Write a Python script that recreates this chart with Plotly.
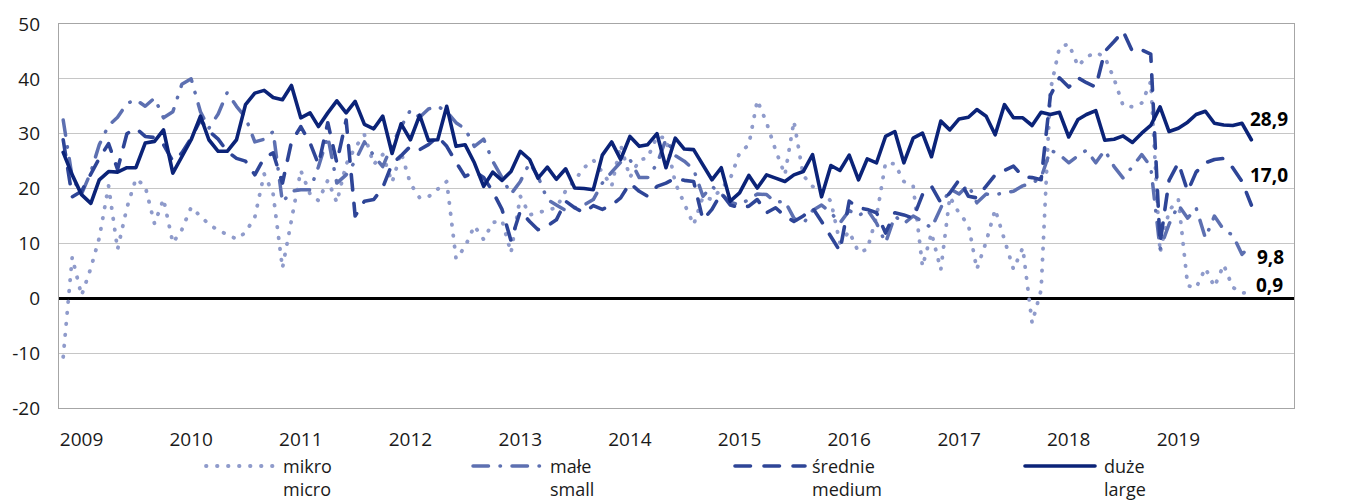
import pandas as pd
import plotly.graph_objects as go

# ---------------- data ----------------
months = pd.date_range("2008-11-01", "2019-09-01", freq="MS")

mikro = [-10.7, 7.5, 0.5, 5.5, 11.0, 20.5, 8.9, 16.5, 21.8, 20.4, 13.6, 18.1, 10.1, 12.5, 16.6, 15.0, 13.5, 12.4, 11.6, 10.8,
         12.0, 14.8, 22.7, 19.0, 5.5, 14.0, 23.3, 19.0, 17.8, 21.5, 17.5, 24.4, 27.5, 29.8, 24.4, 26.2, 21.1, 26.6, 20.9, 18.3,
         18.5, 19.9, 21.3, 7.2, 9.4, 13.2, 10.7, 13.8, 14.2, 8.3, 18.6, 15.2, 15.6, 16.0, 16.5, 19.6, 21.5, 23.8, 25.2, 23.0,
         20.4, 28.0, 22.0, 25.2, 25.6, 29.5, 29.2, 21.0, 17.3, 13.4, 18.5, 18.0, 20.0, 21.8, 26.5, 28.0, 36.1, 32.0, 27.0, 22.5,
         32.3, 22.4, 20.4, 19.5, 17.7, 10.1, 12.2, 8.4, 8.9, 14.9, 24.7, 24.5, 21.3, 20.5, 5.8, 11.9, 5.2, 18.5, 15.5, 13.4,
         5.3, 10.3, 16.2, 10.4, 5.3, 9.2, -4.5, 1.5, 38.0, 45.7, 46.4, 42.3, 44.0, 44.8, 44.0, 40.0, 35.1, 34.9, 35.6, 39.5,
         8.3, 16.0, 18.0, 2.3, 1.9, 5.5, 2.1, 6.1, 2.0, 1.0, 0.9]

male = [32.5, 22.0, 19.0, 23.0, 28.0, 31.5, 33.0, 35.5, 36.2, 35.0, 36.5, 32.9, 34.0, 39.0, 40.0, 34.0, 31.0, 33.6, 37.5, 35.0,
        33.0, 28.5, 29.0, 30.4, 17.5, 19.5, 19.8, 19.8, 24.0, 29.5, 21.0, 22.5, 25.0, 28.5, 26.0, 24.0, 28.0, 31.3, 34.3, 33.0,
        34.5, 35.0, 34.0, 32.0, 30.9, 27.7, 29.0, 25.0, 22.0, 19.0, 21.3, 24.7, 22.2, 18.0, 17.0, 16.0, 16.5, 17.0, 18.0, 21.0,
        23.0, 24.8, 25.3, 22.0, 22.0, 24.5, 29.0, 26.0, 25.0, 23.5, 18.6, 20.4, 19.0, 17.5, 17.0, 18.0, 19.0, 18.9, 17.5, 17.7,
        14.6, 13.6, 16.0, 17.0, 15.6, 13.7, 16.0, 15.0, 16.2, 13.7, 10.1, 15.0, 13.6, 15.0, 14.0, 12.8, 16.5, 20.0, 19.0, 20.7,
        17.4, 19.0, 18.9, 19.2, 19.5, 20.5, 21.0, 22.0, 27.0, 26.2, 24.7, 26.0, 27.0, 24.7, 27.0, 24.0, 21.9, 24.0, 26.2, 24.0,
        9.0, 13.5, 17.0, 14.6, 16.5, 11.0, 15.0, 12.5, 11.5, 8.0, 9.8]

srednie = [28.9, 18.5, 19.5, 22.8, 25.5, 28.2, 23.5, 30.0, 31.0, 29.5, 29.3, 28.0, 25.0, 26.5, 29.2, 32.5, 30.5, 29.0, 26.8, 25.5,
           25.0, 22.5, 25.6, 26.5, 21.0, 28.5, 31.3, 28.3, 24.4, 32.0, 24.7, 32.5, 15.0, 17.7, 18.0, 20.2, 24.5, 26.0, 27.7, 27.1,
           28.0, 29.5, 27.7, 24.8, 22.2, 23.1, 22.0, 19.5, 16.2, 10.5, 15.9, 14.0, 12.5, 13.2, 14.3, 17.7, 16.5, 15.6, 16.9, 16.2,
           17.0, 18.3, 21.0, 19.5, 18.6, 20.4, 21.0, 21.9, 21.5, 21.3, 14.3, 16.2, 19.2, 17.0, 16.5, 16.8, 18.0, 15.6, 16.5, 15.0,
           14.0, 15.0, 16.5, 14.0, 11.3, 8.6, 17.7, 16.5, 16.2, 15.6, 11.9, 15.6, 15.2, 14.6, 18.9, 20.4, 17.4, 19.2, 21.6, 18.6,
           18.3, 20.4, 22.5, 23.3, 24.1, 22.2, 22.0, 21.6, 37.0, 40.2, 38.5, 40.2, 39.3, 38.5, 45.0, 46.8, 48.7, 45.0, 45.3, 44.5,
           10.0, 21.5, 24.7, 19.5, 23.0, 24.7, 25.3, 25.5, 23.8, 21.3, 17.0]

duze = [26.6, 22.5, 18.9, 17.3, 21.6, 23.1, 23.0, 23.8, 23.8, 28.3, 28.6, 30.7, 22.8, 25.9, 28.9, 33.2, 28.9, 26.8, 26.8, 28.9,
        35.3, 37.4, 37.9, 36.6, 36.2, 38.8, 32.9, 33.8, 31.3, 33.8, 36.0, 33.8, 35.9, 31.7, 30.9, 33.2, 26.4, 31.8, 28.9, 33.4,
        28.8, 28.9, 35.0, 27.7, 28.0, 24.7, 20.4, 23.0, 21.5, 23.1, 26.8, 25.3, 21.9, 23.9, 21.7, 23.6, 20.1, 20.0, 19.8, 26.1,
        28.5, 25.3, 29.5, 27.7, 28.0, 30.0, 23.8, 29.2, 27.2, 27.1, 24.4, 21.6, 23.8, 17.7, 19.2, 22.4, 20.1, 22.5, 21.9, 21.3,
        22.5, 23.1, 26.2, 18.5, 24.2, 23.3, 26.1, 21.6, 25.4, 24.7, 29.5, 30.4, 24.7, 29.2, 30.1, 25.8, 32.3, 30.7, 32.7, 33.0,
        34.4, 33.2, 29.8, 35.3, 32.9, 32.9, 31.5, 33.9, 33.5, 33.9, 29.4, 32.6, 33.5, 34.2, 28.8, 29.0, 29.6, 28.4, 30.1, 31.5,
        34.9, 30.4, 31.0, 32.1, 33.5, 34.1, 31.9, 31.6, 31.5, 31.9, 28.9]

series_names_pl = ["mikro", "małe", "średnie", "duże"]
series_names_en = ["micro", "small", "medium", "large"]

year_ticks = [f"{y}-01-01" for y in range(2009, 2020)]
year_labels = [str(y) for y in range(2009, 2020)]
y_ticks = [-20, -10, 0, 10, 20, 30, 40, 50]
y_labels = ["-20", "-10", "0", "10", "20", "30", "40", "50"]

# ---------------- styles ----------------
FONT = "Open Sans"
colors = ["#8f9bcb", "#5d70b1", "#2e4597", "#0b2378"]
widths = [3.8, 3.5, 3.6, 3.6]
dashes = ["0.5px,10.5px", "15.5px,11.5px,0.5px,11.5px", "15.5px,13.5px", "solid"]
end_shift = [(3, 8), (4, -12), (-3, 30), (-3, 21)]

values = [mikro, male, srednie, duze]

fig = go.Figure()
for vals, c, w, d in zip(values, colors, widths, dashes):
    fig.add_trace(go.Scatter(x=months, y=vals, mode="lines",
                             line=dict(color=c, width=w, dash=d),
                             showlegend=False, hoverinfo="skip"))

# end-value labels
for vals, (xs, ys) in zip(values, end_shift):
    fig.add_annotation(x=months[-1], y=vals[-1], xref="x", yref="y",
                       text="<b>" + f"{vals[-1]:.1f}".replace(".", ",") + "</b>",
                       showarrow=False, xanchor="left", yanchor="middle",
                       xshift=xs, yshift=ys,
                       font=dict(family=FONT, size=19, color="#000000"))

# custom legend (positions in page pixels, converted to plot-paper fractions)
plot_l, plot_w, plot_b, plot_h = 59, 1235, 408, 384
def px_x(p):
    return (p - plot_l) / plot_w
def px_y(p):
    return (plot_b - p) / plot_h

sym_x0 = [206, 473, 735, 1025]
txt_x0 = [282, 549, 811, 1103]
for i in range(4):
    fig.add_shape(type="line", xref="paper", yref="paper",
                  x0=px_x(sym_x0[i]), x1=px_x(sym_x0[i] + 70),
                  y0=px_y(466), y1=px_y(466),
                  line=dict(color=colors[i], width=widths[i], dash=dashes[i]))
    fig.add_annotation(xref="paper", yref="paper", x=px_x(txt_x0[i]), y=px_y(453),
                       xanchor="left", yanchor="top", align="left", showarrow=False,
                       borderpad=0,
                       text=series_names_pl[i] + "<br>" + series_names_en[i],
                       font=dict(family=FONT, size=18, color="#1a1a1a"))

axis_line = "#a6a6a6"
fig.update_layout(
    width=1360, height=502,
    margin=dict(l=59, r=66, t=24, b=94, autoexpand=False),
    plot_bgcolor="white", paper_bgcolor="white",
    font=dict(family=FONT, size=19, color="#1a1a1a"),
    xaxis=dict(type="date", range=["2008-10-18", "2020-01-21"],
               tickvals=year_ticks, ticktext=year_labels,
               showgrid=False, zeroline=False, ticks="",
               showline=True, linecolor=axis_line, linewidth=1.3, mirror=True,
               ticklabelstandoff=14, tickfont=dict(family=FONT, size=19)),
    yaxis=dict(range=[-20, 50], tickvals=y_ticks, ticktext=y_labels,
               showgrid=True, gridcolor="#c6c6c6", gridwidth=1.3,
               zeroline=True, zerolinecolor="#000000", zerolinewidth=2.5,
               showline=True, linecolor=axis_line, linewidth=1.3, mirror=True,
               ticks="", ticklabelstandoff=14, tickfont=dict(family=FONT, size=19)),
    yaxis2=dict(range=[-20, 50], tickvals=y_ticks, ticktext=y_labels,
                overlaying="y", side="right", showgrid=False, zeroline=False,
                showline=False, ticks="", ticklabelstandoff=14,
                tickfont=dict(family=FONT, size=19)),
)

post = """
document.body.style.margin = '0';
document.body.style.padding = '0';
var gd = document.getElementById('{plot_id}');
function rc(){
  gd.querySelectorAll('.scatterlayer path.js-line, .shapelayer path').forEach(function(p){
    p.style.strokeLinecap = 'round'; p.style.strokeLinejoin = 'round';
  });
}
rc();
if (gd.on) { gd.on('plotly_afterplot', rc); }
"""
fig.write_html("out.html", post_script=post, config={"displayModeBar": False})
